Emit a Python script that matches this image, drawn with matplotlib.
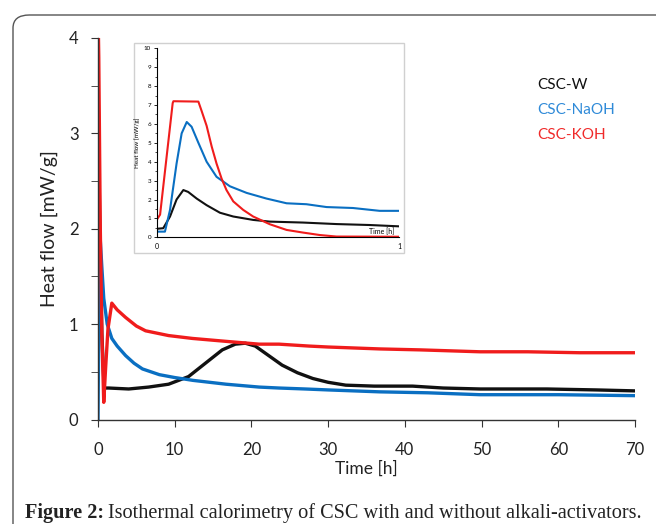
import matplotlib
matplotlib.use("Agg")
import matplotlib.pyplot as plt
from matplotlib.patches import FancyBboxPatch, Rectangle
from matplotlib.ticker import MultipleLocator

plt.rcParams['font.family'] = ['Lato', 'DejaVu Sans']

# 主图数据 (Time [h], Heat flow [mW/g])
t_w = [0, 0.2, 0.5, 0.8, 1.4, 4, 6.6, 9.2, 11.8, 14, 16.2, 17.9, 19.2, 20.5, 21.9,
       24, 26, 28, 30, 32.3, 36, 41, 45, 49.8, 58.5, 65, 70]
q_w = [3.6, 2.2, 0.9, 0.33, 0.33, 0.32, 0.34, 0.37, 0.45, 0.59, 0.73, 0.79, 0.8, 0.77, 0.69,
       0.57, 0.49, 0.43, 0.39, 0.36, 0.35, 0.35, 0.33, 0.32, 0.32, 0.31, 0.30]

t_na = [0, 0.1, 0.3, 0.5, 0.75, 1.2, 1.8, 2.5, 3.6, 4.7, 5.8, 8, 10, 12.4, 16.7, 21,
        23.6, 27, 30, 36.7, 43, 49.8, 60, 70]
q_na = [0, 1.0, 1.88, 1.6, 1.27, 1.0, 0.85, 0.77, 0.67, 0.59, 0.53, 0.47, 0.44, 0.41, 0.37, 0.34,
        0.33, 0.32, 0.31, 0.29, 0.28, 0.26, 0.26, 0.25]

t_k = [0, 0.1, 0.3, 0.5, 0.75, 1.0, 1.3, 1.8, 2.5, 3.6, 5, 6.2, 8, 9.2, 12.3, 16.6, 21,
       23.6, 27.5, 30, 36.7, 42, 49.8, 56, 62.8, 70]
q_k = [4.3, 3.8, 2.0, 0.9, 0.18, 0.55, 0.95, 1.22, 1.15, 1.07, 0.98, 0.93, 0.9, 0.88, 0.85, 0.82, 0.79,
       0.79, 0.77, 0.76, 0.74, 0.73, 0.71, 0.71, 0.70, 0.70]

# 小图数据 (前 1 h)
ti_w = [0, 0.027, 0.055, 0.082, 0.11, 0.13, 0.165, 0.206, 0.261, 0.316, 0.398, 0.467,
        0.604, 0.742, 0.879, 1.0]
qi_w = [0.45, 0.48, 1.1, 2.0, 2.5, 2.4, 2.05, 1.7, 1.3, 1.1, 0.92, 0.83,
        0.78, 0.7, 0.65, 0.58]

ti_na = [0, 0.034, 0.055, 0.082, 0.103, 0.124, 0.144, 0.172, 0.206, 0.247, 0.302, 0.371,
         0.453, 0.536, 0.618, 0.701, 0.81, 0.92, 1.0]
qi_na = [0.3, 0.3, 1.45, 3.9, 5.5, 6.1, 5.85, 5.0, 4.0, 3.2, 2.7, 2.35,
         2.05, 1.8, 1.75, 1.6, 1.55, 1.4, 1.4]

ti_k = [0, 0.014, 0.021, 0.066, 0.069, 0.172, 0.185, 0.206, 0.227, 0.247, 0.268, 0.288,
        0.316, 0.357, 0.398, 0.467, 0.536, 0.604, 0.673, 0.742, 1.0]
qi_k = [0.92, 1.2, 2.0, 7.1, 7.2, 7.18, 6.7, 5.9, 4.8, 3.9, 3.1, 2.5,
        1.9, 1.45, 1.1, 0.69, 0.39, 0.25, 0.12, 0.04, 0.03]

labels = ['CSC-W', 'CSC-NaOH', 'CSC-KOH']
line_colors = ['#111111', '#0a6fc2', '#f01c1c']
text_colors = ['#111111', '#2f8ad8', '#f02a2a']

W, H = 656, 524
fig = plt.figure(figsize=(W / 100, H / 100), dpi=100)

# 外框 (圆角, 右下超出画面)
frame = FancyBboxPatch((13 / W, (H - 540) / H), 680 / W, 525 / H,
                       boxstyle="round,pad=0,rounding_size=0.025",
                       transform=fig.transFigure, fill=False,
                       edgecolor='#555555', linewidth=1.0)
fig.patches.append(frame)

ax = fig.add_axes([98 / W, 1 - 419.5 / H, 537 / W, 381.5 / H])
ax.plot(t_w, q_w, color=line_colors[0], lw=2.4, solid_joinstyle='round')
ax.plot(t_na, q_na, color=line_colors[1], lw=2.4, solid_joinstyle='round')
ax.plot(t_k, q_k, color=line_colors[2], lw=2.4, solid_joinstyle='round')
ax.set_xlim(0, 70)
ax.set_ylim(0, 4)
ax.xaxis.set_major_locator(MultipleLocator(10))
ax.yaxis.set_major_locator(MultipleLocator(1))
ax.yaxis.set_minor_locator(MultipleLocator(0.5))
for s in ['top', 'right']:
    ax.spines[s].set_visible(False)
for s in ['left', 'bottom']:
    ax.spines[s].set_color('#333333')
    ax.spines[s].set_linewidth(1.0)
ax.tick_params(axis='both', which='both', color='#333333', labelsize=12, labelcolor='#222222')
ax.tick_params(axis='x', which='major', length=5, pad=11)
ax.tick_params(axis='y', which='major', length=5, pad=9)
ax.tick_params(axis='y', which='minor', length=5)
ax.set_xlabel('Time [h]', fontsize=12.5, color='#222222', labelpad=2)
ax.set_ylabel('Heat flow [mW/g]', fontsize=14, color='#222222', labelpad=8)

# 图例文字
for i, lab in enumerate(labels):
    fig.text(537 / W, 1 - (85 + 25 * i) / H, lab, color=text_colors[i],
             fontsize=11, va='center', ha='left')

# 小图背景框
fig.patches.append(Rectangle((134 / W, 1 - 253 / H), 270 / W, 210 / H,
                             transform=fig.transFigure, facecolor='white',
                             edgecolor='#d0d0d0', linewidth=1.0, zorder=2))

axi = fig.add_axes([156.7 / W, 1 - 237.3 / H, 242.3 / W, 189 / H], zorder=3)
axi.plot(ti_w, qi_w, color=line_colors[0], lw=1.5)
axi.plot(ti_na, qi_na, color=line_colors[1], lw=1.5)
axi.plot(ti_k, qi_k, color=line_colors[2], lw=1.5)
axi.set_xlim(0, 1)
axi.set_ylim(0, 10)
axi.set_xticks([0, 1])
axi.yaxis.set_major_locator(MultipleLocator(1))
axi.yaxis.set_minor_locator(MultipleLocator(0.5))
for s in ['top', 'right']:
    axi.spines[s].set_visible(False)
axi.spines['left'].set_linewidth(0.8)
axi.spines['bottom'].set_linewidth(0.8)
axi.tick_params(axis='x', length=0, labelsize=5, pad=4)
axi.tick_params(axis='y', which='major', length=2, width=0.6, labelsize=4.5, pad=2)
axi.tick_params(axis='y', which='minor', length=1.5, width=0.5)
axi.set_ylabel('Heat flow [mW/g]', fontsize=4.5, labelpad=3)
axi.text(0.93, 0.12, 'Time [h]', fontsize=5, ha='center', va='bottom')

# 图注
serif = ['Liberation Serif', 'DejaVu Serif']
fig.text(25 / W, 1 - 513 / H, 'Figure 2:', fontsize=14.6, fontweight='bold',
         family=serif, va='center', ha='left', color='#222222')
fig.text(108 / W, 1 - 513 / H, 'Isothermal calorimetry of CSC with and without alkali-activators.',
         fontsize=14.6, family=serif, va='center', ha='left', color='#222222')

fig.savefig('out.png', dpi=100)
